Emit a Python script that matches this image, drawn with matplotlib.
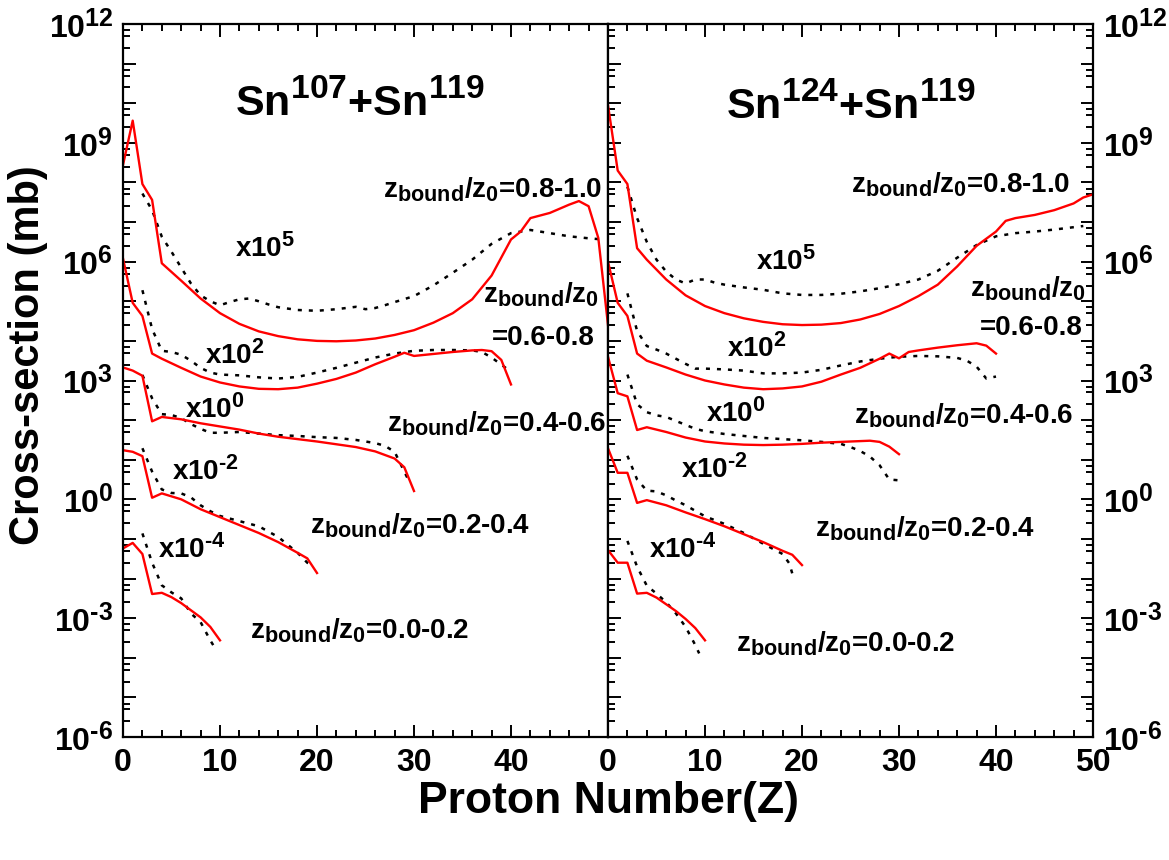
import numpy as np
import matplotlib
matplotlib.use("Agg")
import matplotlib.pyplot as plt
from matplotlib.ticker import FixedLocator, FuncFormatter, MultipleLocator, LogLocator, NullFormatter

try:
    import matplotlib._mathtext as _mt
    _mt.SHRINK_FACTOR = 0.78
except Exception:
    pass

plt.rcParams['font.family'] = ['Liberation Sans', 'DejaVu Sans']
plt.rcParams['font.weight'] = 'bold'
plt.rcParams['mathtext.fontset'] = 'custom'
plt.rcParams['mathtext.rm'] = 'Liberation Sans:bold'
plt.rcParams['mathtext.it'] = 'Liberation Sans:bold'
plt.rcParams['mathtext.bf'] = 'Liberation Sans:bold'
plt.rcParams['mathtext.sf'] = 'Liberation Sans:bold'
plt.rcParams['mathtext.default'] = 'rm'

# ---------------- data (log10 of plotted cross-section, scale factors included) -------------
# Left panel: Sn107 + Sn119
L_red_08_z = [0, 1, 2, 3, 4, 6, 8, 10, 12, 14, 16, 18, 20, 22, 24, 26, 28, 30, 32, 34, 36, 38, 40, 41, 42, 44, 46, 47, 48, 49, 50]
L_red_08_v = [8.44, 9.56, 7.96, 7.56, 5.96, 5.52, 5.07, 4.70, 4.43, 4.24, 4.12, 4.04, 4.00, 3.99, 4.01, 4.06, 4.15, 4.27, 4.46, 4.70, 5.05, 5.65, 6.56, 6.76, 7.10, 7.23, 7.44, 7.53, 7.40, 6.60, 4.40]
L_dot_08_z = [2, 3, 4, 5, 6, 7, 8, 9, 10, 11, 12, 13, 14, 15, 16, 18, 20, 22, 24, 25, 26, 27, 28, 30, 32, 34, 36, 38, 40, 42, 44, 46, 48, 49]
L_dot_08_v = [7.72, 7.30, 6.63, 6.25, 5.85, 5.45, 5.15, 5.00, 4.90, 4.98, 5.05, 5.07, 5.00, 4.92, 4.85, 4.78, 4.76, 4.80, 4.86, 4.80, 4.83, 4.90, 4.98, 5.13, 5.40, 5.72, 6.05, 6.45, 6.72, 6.80, 6.72, 6.64, 6.59, 6.57]

L_red_06_z = [0, 1, 2, 3, 4, 6, 8, 10, 12, 14, 16, 18, 20, 22, 24, 26, 28, 29, 30, 32, 34, 36, 37, 38, 39, 40]
L_red_06_v = [6.08, 4.96, 4.63, 3.68, 3.55, 3.32, 3.10, 2.95, 2.85, 2.79, 2.78, 2.82, 2.92, 3.04, 3.20, 3.41, 3.60, 3.70, 3.62, 3.67, 3.72, 3.76, 3.77, 3.74, 3.52, 2.90]
L_dot_06_z = [2, 3, 4, 5, 6, 7, 8, 9, 10, 12, 14, 16, 18, 20, 22, 24, 26, 28, 30, 32, 34, 36, 37, 38, 39, 40]
L_dot_06_v = [5.28, 4.30, 3.75, 3.72, 3.65, 3.50, 3.32, 3.20, 3.15, 3.13, 3.08, 3.05, 3.09, 3.20, 3.32, 3.45, 3.58, 3.68, 3.75, 3.77, 3.77, 3.76, 3.72, 3.58, 3.40, 3.22]

L_red_04_z = [0, 1, 2, 3, 4, 6, 8, 10, 12, 14, 16, 18, 20, 22, 24, 26, 28, 29, 30]
L_red_04_v = [3.33, 3.25, 3.12, 1.97, 2.08, 2.02, 1.92, 1.84, 1.76, 1.66, 1.58, 1.52, 1.46, 1.39, 1.32, 1.21, 1.03, 0.81, 0.21]
L_dot_04_z = [2, 3, 4, 5, 6, 7, 8, 9, 10, 12, 14, 16, 18, 20, 22, 24, 26, 27, 28, 29, 29.3]
L_dot_04_v = [3.14, 2.55, 2.15, 2.13, 2.05, 1.90, 1.78, 1.68, 1.68, 1.70, 1.66, 1.62, 1.60, 1.57, 1.55, 1.50, 1.42, 1.35, 1.20, 0.70, 0.55]

L_red_02_z = [0, 1, 2, 3, 4, 6, 8, 10, 12, 14, 16, 18, 19, 20]
L_red_02_v = [1.24, 1.20, 1.09, 0.04, 0.15, 0.00, -0.25, -0.45, -0.65, -0.85, -1.08, -1.35, -1.49, -1.86]
L_dot_02_z = [2, 3, 4, 5, 6, 7, 8, 9, 10, 12, 14, 16, 18, 19, 19.7]
L_dot_02_v = [1.29, 0.70, 0.25, 0.16, 0.15, 0.05, -0.15, -0.30, -0.42, -0.55, -0.68, -0.95, -1.35, -1.60, -1.70]

L_red_00_z = [0, 1, 2, 3, 4, 5, 6, 7, 8, 9, 10]
L_red_00_v = [-1.24, -1.10, -1.38, -2.39, -2.36, -2.47, -2.62, -2.80, -2.98, -3.22, -3.56]
L_dot_00_z = [2, 3, 4, 5, 6, 7, 8, 9, 9.4]
L_dot_00_v = [-0.86, -1.60, -2.17, -2.35, -2.50, -2.88, -3.10, -3.56, -3.72]

# Right panel: Sn124 + Sn119
R_red_08_z = [0, 1, 2, 3, 4, 6, 8, 10, 12, 14, 16, 18, 20, 22, 24, 26, 28, 30, 32, 34, 36, 38, 40, 41, 42, 44, 46, 48, 49, 50]
R_red_08_v = [9.95, 8.30, 7.96, 6.34, 6.05, 5.55, 5.15, 4.88, 4.70, 4.57, 4.48, 4.42, 4.40, 4.41, 4.45, 4.54, 4.68, 4.88, 5.13, 5.42, 5.88, 6.40, 6.76, 7.03, 7.10, 7.18, 7.30, 7.47, 7.62, 7.70]
R_dot_08_z = [2, 3, 4, 5, 6, 7, 8, 9, 10, 11, 12, 14, 16, 18, 20, 22, 24, 26, 28, 30, 32, 34, 36, 38, 40, 42, 44, 46, 48, 49]
R_dot_08_v = [7.89, 7.10, 6.50, 6.05, 5.75, 5.55, 5.45, 5.55, 5.55, 5.47, 5.42, 5.35, 5.29, 5.20, 5.16, 5.16, 5.19, 5.25, 5.33, 5.43, 5.55, 5.77, 6.10, 6.42, 6.64, 6.72, 6.76, 6.81, 6.87, 6.90]

R_red_06_z = [0, 1, 2, 3, 4, 6, 8, 10, 12, 14, 16, 18, 20, 22, 24, 26, 28, 29, 30, 31, 32, 34, 36, 38, 39, 40]
R_red_06_v = [6.00, 4.96, 4.63, 3.68, 3.50, 3.33, 3.15, 3.00, 2.90, 2.82, 2.78, 2.80, 2.85, 2.97, 3.15, 3.32, 3.55, 3.68, 3.56, 3.72, 3.76, 3.83, 3.89, 3.94, 3.88, 3.68]
R_dot_06_z = [2, 3, 4, 5, 6, 7, 8, 9, 10, 12, 14, 16, 18, 20, 22, 24, 26, 28, 30, 32, 34, 36, 37, 38, 39, 40]
R_dot_06_v = [5.20, 4.25, 3.87, 3.78, 3.68, 3.55, 3.42, 3.30, 3.30, 3.28, 3.25, 3.18, 3.18, 3.20, 3.27, 3.38, 3.48, 3.55, 3.60, 3.62, 3.61, 3.57, 3.50, 3.35, 3.05, 3.10]

R_red_04_z = [0, 1, 2, 3, 4, 6, 8, 10, 12, 14, 16, 18, 20, 22, 24, 26, 27, 28, 29, 30]
R_red_04_v = [3.60, 2.68, 2.60, 1.75, 1.82, 1.70, 1.56, 1.46, 1.41, 1.38, 1.37, 1.38, 1.40, 1.43, 1.45, 1.47, 1.48, 1.45, 1.33, 1.14]
R_dot_04_z = [2, 3, 4, 5, 6, 7, 8, 9, 10, 12, 14, 16, 18, 20, 22, 24, 25, 26, 27, 28, 29, 30]
R_dot_04_v = [3.15, 2.40, 2.20, 2.12, 2.08, 1.98, 1.88, 1.78, 1.72, 1.65, 1.60, 1.55, 1.52, 1.49, 1.45, 1.40, 1.32, 1.22, 1.08, 0.86, 0.50, 0.48]

R_red_02_z = [0, 1, 2, 3, 4, 6, 8, 10, 12, 14, 16, 18, 19, 20]
R_red_02_v = [1.29, 0.67, 0.67, -0.09, -0.02, -0.15, -0.33, -0.50, -0.68, -0.88, -1.08, -1.30, -1.40, -1.66]
R_dot_02_z = [2, 3, 4, 5, 6, 7, 8, 10, 12, 14, 16, 18, 18.7, 19.1]
R_dot_02_v = [1.10, 0.50, 0.22, 0.20, 0.10, -0.03, -0.15, -0.43, -0.62, -0.85, -1.12, -1.38, -1.62, -1.96]

R_red_00_z = [0, 1, 2, 3, 4, 5, 6, 7, 8, 9, 10]
R_red_00_v = [-1.28, -1.60, -1.60, -2.38, -2.36, -2.48, -2.65, -2.82, -3.02, -3.25, -3.56]
R_dot_00_z = [2, 3, 4, 5, 6, 7, 8, 9, 9.4]
R_dot_00_v = [-1.05, -1.70, -2.18, -2.38, -2.60, -2.88, -3.22, -3.68, -3.89]

titles = [r'Sn$^{107}$+Sn$^{119}$', r'Sn$^{124}$+Sn$^{119}$']
bin_labels = ['0.8-1.0', '0.6-0.8', '0.4-0.6', '0.2-0.4', '0.0-0.2']
scale_labels = [r'x10$^{5}$', r'x10$^{2}$', r'x10$^{0}$', r'x10$^{\text{-}2}$', r'x10$^{\text{-}4}$']
x_ticks = [0, 10, 20, 30, 40, 50]

left_series = [(L_red_08_z, L_red_08_v, L_dot_08_z, L_dot_08_v),
               (L_red_06_z, L_red_06_v, L_dot_06_z, L_dot_06_v),
               (L_red_04_z, L_red_04_v, L_dot_04_z, L_dot_04_v),
               (L_red_02_z, L_red_02_v, L_dot_02_z, L_dot_02_v),
               (L_red_00_z, L_red_00_v, L_dot_00_z, L_dot_00_v)]
right_series = [(R_red_08_z, R_red_08_v, R_dot_08_z, R_dot_08_v),
                (R_red_06_z, R_red_06_v, R_dot_06_z, R_dot_06_v),
                (R_red_04_z, R_red_04_v, R_dot_04_z, R_dot_04_v),
                (R_red_02_z, R_red_02_v, R_dot_02_z, R_dot_02_v),
                (R_red_00_z, R_red_00_v, R_dot_00_z, R_dot_00_v)]

# ---------------- figure ----------------
fig = plt.figure(figsize=(11.69, 8.60), dpi=100)
W, H = 1169, 860
bot = 1 - 737 / H
top = 1 - 24 / H
axL = fig.add_axes([123 / W, bot, (608 - 123) / W, top - bot])
axR = fig.add_axes([608 / W, bot, (1093 - 608) / W, top - bot])

def ylab(v, pos):
    e = int(round(np.log10(v)))
    if e % 3 == 0:
        if e < 0:
            return r'$10^{\text{-}%d}$' % (-e)
        return r'$10^{%d}$' % e
    return ''

for ax, series in ((axL, left_series), (axR, right_series)):
    for rz, rv, dz, dv in series:
        ax.plot(dz, 10 ** np.array(dv), color='black', lw=1.8, linestyle=(0, (1.6, 2.8)))
        ax.plot(rz, 10 ** np.array(rv), color='#ff0000', lw=1.7)
    ax.set_yscale('log')
    ax.set_ylim(1e-6, 1e12)
    ax.set_xlim(0, 50)
    ax.yaxis.set_major_locator(FixedLocator([10.0 ** e for e in range(-6, 13)]))
    ax.yaxis.set_major_formatter(FuncFormatter(ylab))
    ax.yaxis.set_minor_locator(LogLocator(base=10, subs=(2.5, 5.0, 7.0), numticks=40))
    ax.yaxis.set_minor_formatter(NullFormatter())
    ax.xaxis.set_major_locator(FixedLocator(x_ticks))
    ax.xaxis.set_minor_locator(MultipleLocator(2))
    for s in ax.spines.values():
        s.set_linewidth(1.6)
    ax.tick_params(which='both', direction='in', width=1.4, labelsize=23, top=True)
    ax.tick_params(which='major', length=9)
    ax.tick_params(which='minor', length=5)
    ax.tick_params(axis='x', pad=8)
    ax.tick_params(axis='y', pad=7)

axL.tick_params(which='both', left=True, right=False, labelleft=True, labelright=False)
axR.tick_params(which='both', left=True, right=True, labelleft=False, labelright=True)
axL.set_xticks(x_ticks)
axL.set_xticklabels(['0', '10', '20', '30', '40', ''])
axR.set_xticks(x_ticks)
axR.set_xticklabels(['0', '10', '20', '30', '40', '50'])

# titles
axL.text(0.231, 0.871, titles[0], transform=axL.transAxes, fontsize=31, fontweight='bold', ha='left', va='baseline')
axR.text(0.244, 0.867, titles[1], transform=axR.transAxes, fontsize=31, fontweight='bold', ha='left', va='baseline')

zb = r'z$_{\mathrm{bound}}$/z$_{0}$'
fs_lab = 20
# left annotations
axL.text(0.536, 0.756, zb + '=' + bin_labels[0], transform=axL.transAxes, fontsize=fs_lab, ha='left', va='baseline')
axL.text(0.742, 0.610, zb, transform=axL.transAxes, fontsize=fs_lab, ha='left', va='baseline')
axL.text(0.761, 0.550, '=' + bin_labels[1], transform=axL.transAxes, fontsize=fs_lab, ha='left', va='baseline')
axL.text(0.544, 0.428, zb + '=' + bin_labels[2], transform=axL.transAxes, fontsize=fs_lab, ha='left', va='baseline')
axL.text(0.386, 0.286, zb + '=' + bin_labels[3], transform=axL.transAxes, fontsize=fs_lab, ha='left', va='baseline')
axL.text(0.262, 0.138, zb + '=' + bin_labels[4], transform=axL.transAxes, fontsize=fs_lab, ha='left', va='baseline')
for (x, y), s in zip([(0.231, 0.673), (0.169, 0.524), (0.128, 0.447), (0.100, 0.360), (0.073, 0.251)], scale_labels):
    axL.text(x, y, s, transform=axL.transAxes, fontsize=fs_lab, ha='left', va='baseline')

# right annotations
axR.text(0.501, 0.763, zb + '=' + bin_labels[0], transform=axR.transAxes, fontsize=fs_lab, ha='left', va='baseline')
axR.text(0.746, 0.618, zb, transform=axR.transAxes, fontsize=fs_lab, ha='left', va='baseline')
axR.text(0.767, 0.564, '=' + bin_labels[1], transform=axR.transAxes, fontsize=fs_lab, ha='left', va='baseline')
axR.text(0.508, 0.440, zb + '=' + bin_labels[2], transform=axR.transAxes, fontsize=fs_lab, ha='left', va='baseline')
axR.text(0.426, 0.281, zb + '=' + bin_labels[3], transform=axR.transAxes, fontsize=fs_lab, ha='left', va='baseline')
axR.text(0.264, 0.120, zb + '=' + bin_labels[4], transform=axR.transAxes, fontsize=fs_lab, ha='left', va='baseline')
for (x, y), s in zip([(0.305, 0.655), (0.246, 0.533), (0.202, 0.442), (0.150, 0.363), (0.085, 0.251)], scale_labels):
    axR.text(x, y, s, transform=axR.transAxes, fontsize=fs_lab, ha='left', va='baseline')

fig.text(609 / W, 1 - 802 / H, 'Proton Number(Z)', fontsize=32, fontweight='bold', ha='center', va='center')
fig.text(28 / W, 1 - 355 / H, 'Cross-section (mb)', fontsize=30, fontweight='bold', ha='center', va='center', rotation=90)

fig.savefig('out.png', dpi=100)
